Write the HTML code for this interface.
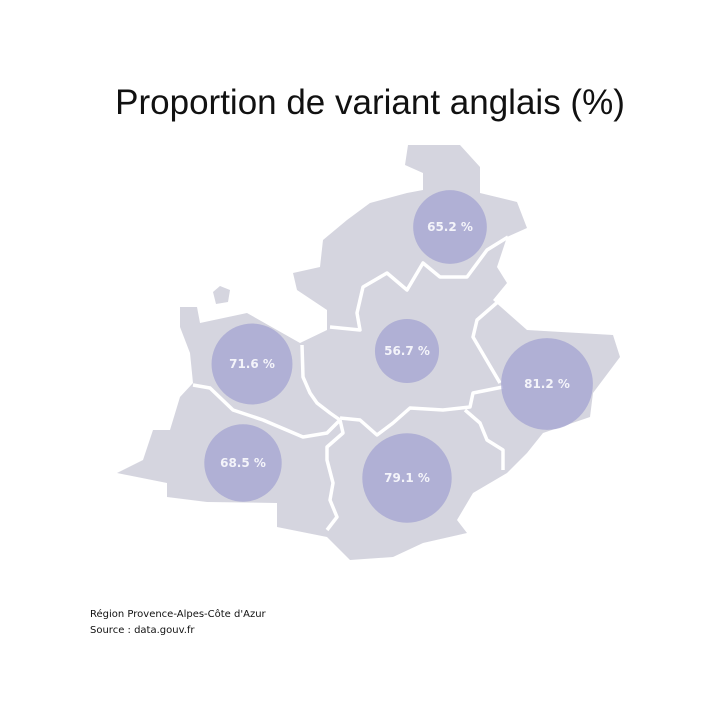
<!DOCTYPE html>
<html><head><meta charset="utf-8"><style>
body{margin:0;background:#fff;width:720px;height:720px;overflow:hidden;font-family:"Liberation Sans","DejaVu Sans",sans-serif}
</style></head><body>
<svg width="720" height="720" viewBox="0 0 720 720">
<text x="370" y="114" text-anchor="middle" font-size="35" fill="#111" font-family="Liberation Sans, DejaVu Sans, sans-serif">Proportion de variant anglais (%)</text>
<g>
<path fill="#d5d5df" d="M408,145 L460,145 L480,167 L480,193 L517,202 L527,228 L507,237 L497,267 L507,283 L493,300 L527,330 L613,335 L620,357 L593,393 L590,417 L543,433 L527,453 L507,473 L473,493 L457,520 L467,533 L423,543 L393,557 L350,560 L327,537 L277,527 L277,503 L207,502 L167,497 L167,483 L117,473 L143,460 L153,430 L170,430 L180,397 L193,383 L190,353 L180,327 L180,307 L197,307 L200,323 L247,313 L277,330 L300,343 L327,330 L327,310 L297,290 L293,273 L320,267 L323,240 L347,220 L370,203 L407,193 L423,190 L423,173 L405,165 Z"/>
<path fill="#d5d5df" d="M213,292 L220,286 L230,290 L228,302 L216,304 Z"/>
<g fill="none" stroke="#fff" stroke-width="3.5" stroke-linejoin="round">
<polyline points="508,237 487,250 467,277 440,277 423,263 407,290 387,273 363,287 357,313 360,330 330,327"/>
<polyline points="500,300 477,320 473,337 500,383"/>
<polyline points="503,387 473,393 470,407 443,410 410,408 393,423 377,435 360,420 340,418"/>
<polyline points="302,345 303,377 310,393 317,403 330,413 340,420"/>
<polyline points="193,385 210,388 233,410 263,420 303,437 327,433 340,420"/>
<polyline points="340,420 343,433 327,447 327,460 333,483 330,500 337,517 327,530"/>
<polyline points="465,410 480,423 487,440 503,450 503,470"/>
</g>
</g>
<g id="bubbles"></g>
<text x="90" y="617" font-size="10" fill="#111" font-family="DejaVu Sans, sans-serif">Région Provence-Alpes-Côte d'Azur</text>
<text x="90" y="633" font-size="10" fill="#111" font-family="DejaVu Sans, sans-serif">Source : data.gouv.fr</text>
</svg>
<script>
const departments=["Hautes-Alpes","Alpes-de-Haute-Provence","Vaucluse","Alpes-Maritimes","Bouches-du-Rhône","Var"];
const values=[65.2,56.7,71.6,81.2,68.5,79.1];
const anchorX=[450,407,252,547,243,407];
const anchorY=[227,351,364,384,463,478];
function rScale(v){return v*0.565;}
const g=document.getElementById('bubbles');
const NS="http://www.w3.org/2000/svg";
values.forEach((v,i)=>{
  const c=document.createElementNS(NS,'circle');
  c.setAttribute('cx',anchorX[i]);c.setAttribute('cy',anchorY[i]);c.setAttribute('r',rScale(v));
  c.setAttribute('fill','#a6a6d2');c.setAttribute('fill-opacity','0.8');
  
  
  g.appendChild(c);
  const t=document.createElementNS(NS,'text');
  t.setAttribute('x',anchorX[i]);t.setAttribute('y',anchorY[i]+4);
  t.setAttribute('text-anchor','middle');t.setAttribute('font-size','12');
  t.setAttribute('font-weight','bold');t.setAttribute('fill','#f4f4fa');
  t.setAttribute('font-family','DejaVu Sans, sans-serif');
  t.textContent=v.toFixed(1)+' %';
  
  
  g.appendChild(t);
});
</script>
</body></html>
